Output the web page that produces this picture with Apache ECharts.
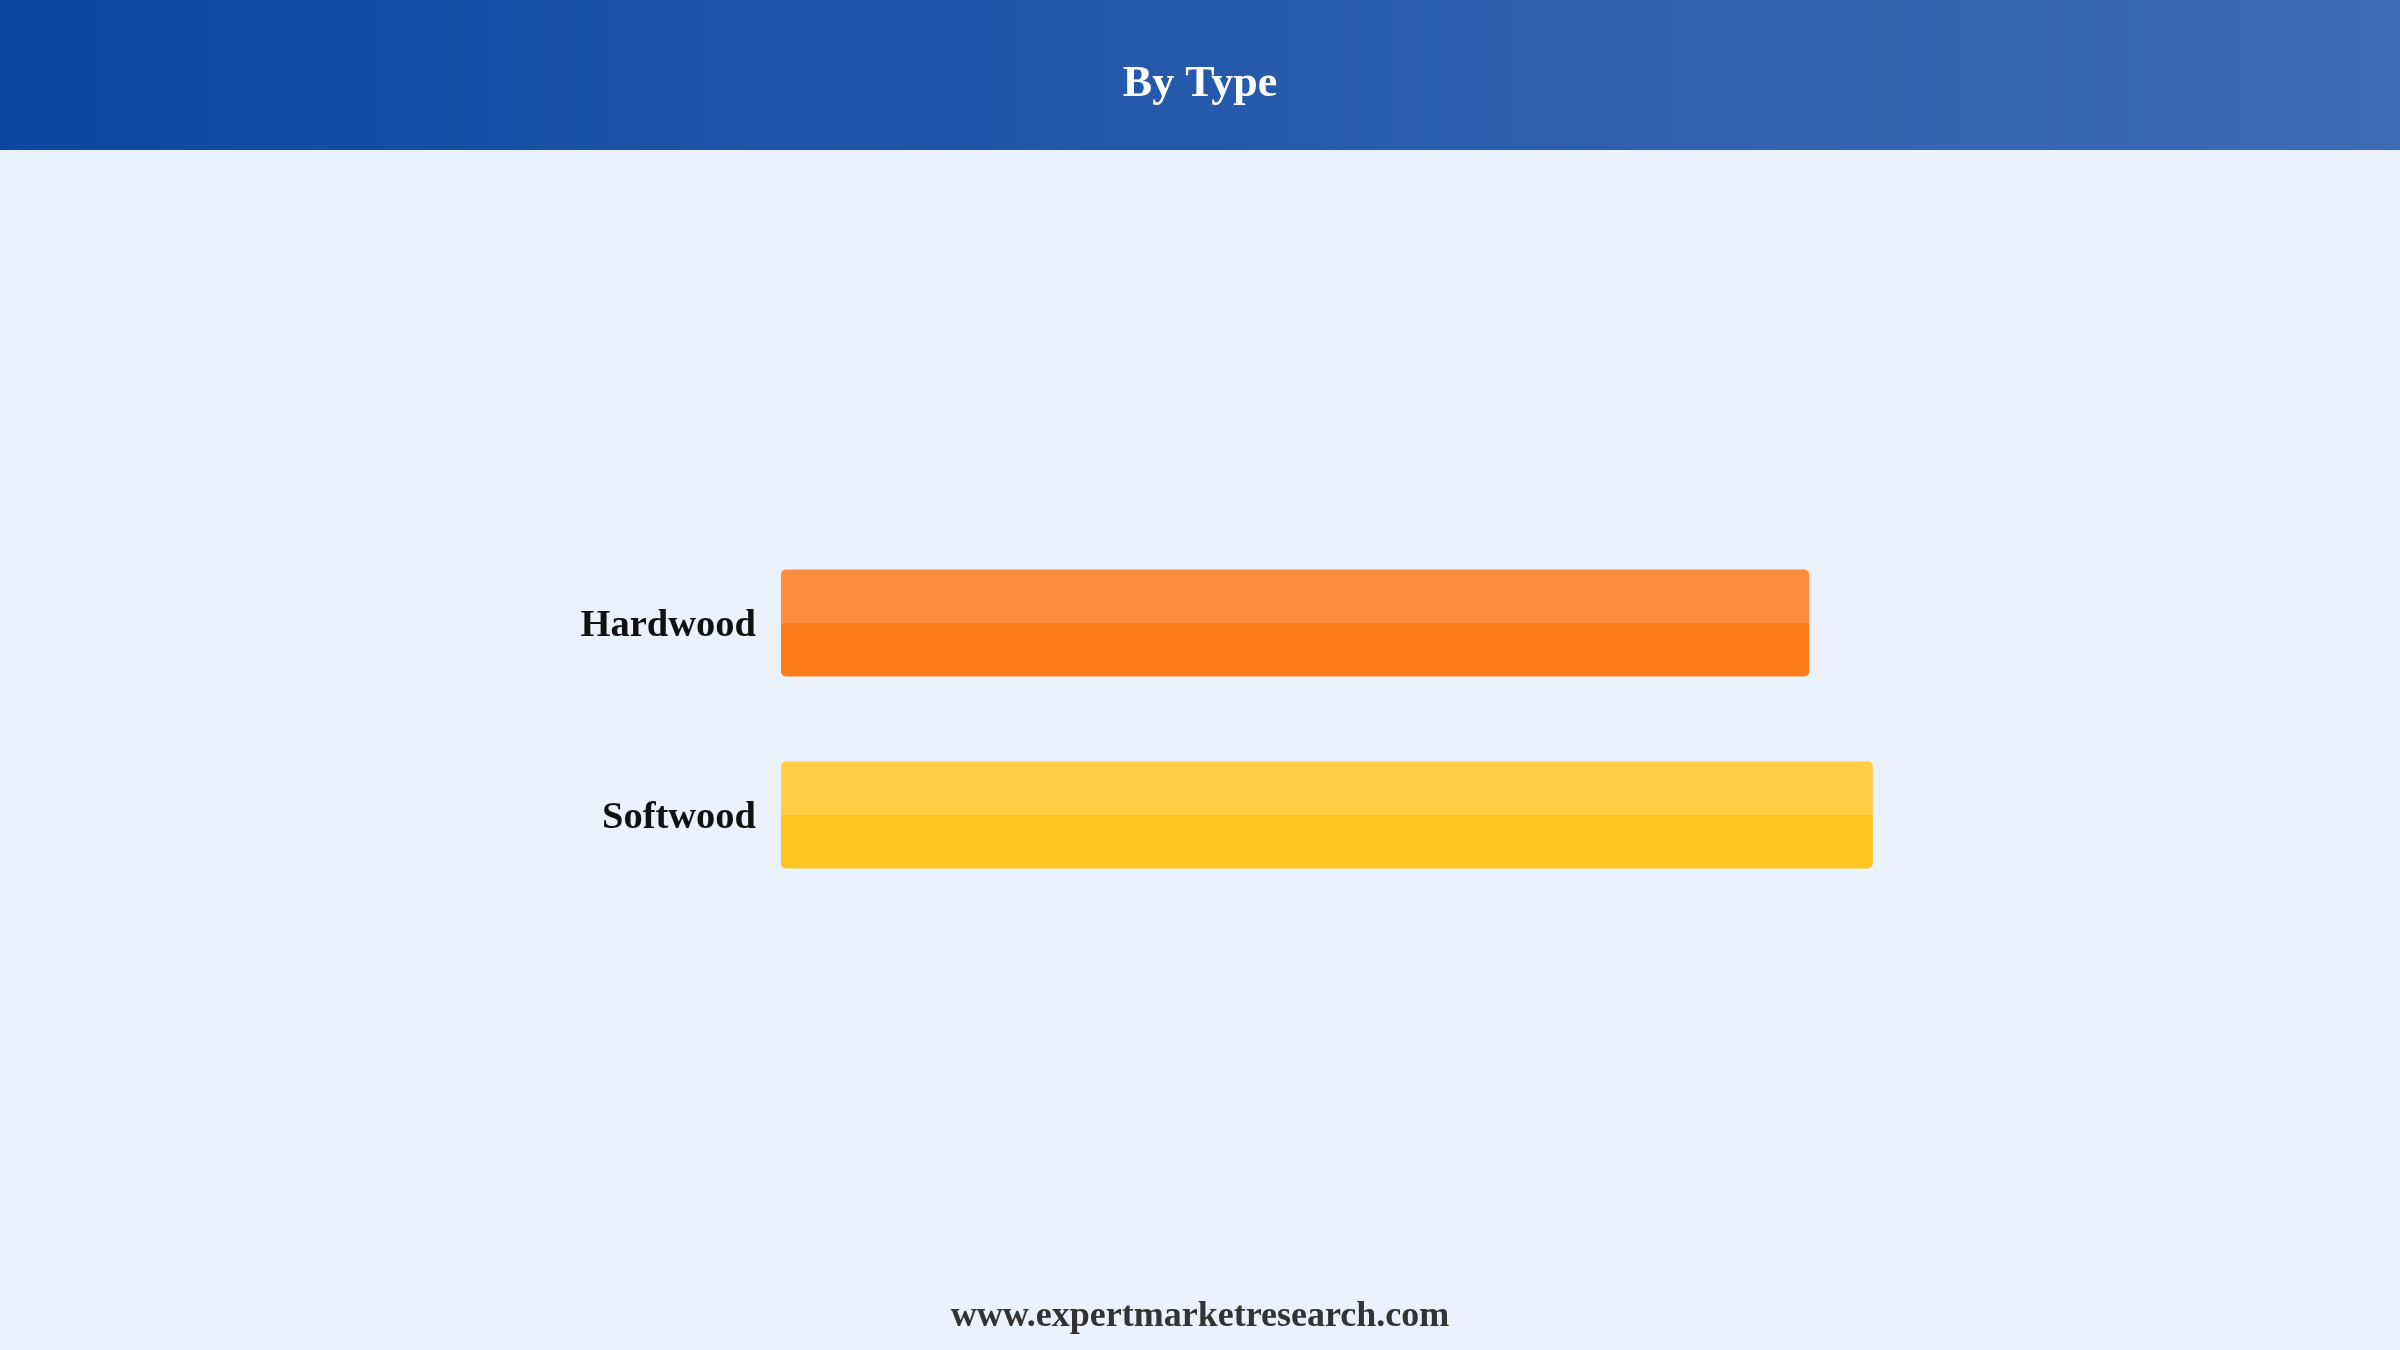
<!DOCTYPE html>
<html>
<head>
<meta charset="utf-8">
<script src="https://cdn.jsdelivr.net/npm/echarts@6/dist/echarts.min.js"></script>
<style>
html,body{margin:0;padding:0;background:#EBF2FC;}
#chart{width:2400px;height:1350px;}
</style>
</head>
<body>
<div id="chart"></div>
<script>
const categories = ['Softwood', 'Hardwood'];
const values = [51.5, 48.5];
const topColors = ['#FECD44', '#FF8D3F'];
const bottomColors = ['#FEC520', '#FF7C1B'];
const titleText = 'By Type';
const footerText = 'www.expertmarketresearch.com';

const chart = echarts.init(document.getElementById('chart'));
const serif = '"Liberation Serif", "Times New Roman", serif';
chart.setOption({
  backgroundColor: '#EBF2FC',
  graphic: [
    {
      type: 'rect', left: 0, top: 0, z: 0,
      shape: { width: 2400, height: 150 },
      style: {
        fill: new echarts.graphic.LinearGradient(0, 0, 1, 0, [
          { offset: 0, color: '#0D47A1' },
          { offset: 1, color: '#3D6CB5' }
        ])
      }
    },
    {
      type: 'text', left: 'center', top: 1299, z: 5,
      style: { text: footerText, font: 'bold 36px ' + serif, fill: '#333333' }
    }
  ],
  title: {
    text: titleText, left: 'center', top: 58,
    textStyle: { color: '#ffffff', fontFamily: serif, fontWeight: 'bold', fontSize: 44 }
  },
  grid: { left: 781, width: 1272, top: 527, height: 384, containLabel: false },
  xAxis: { type: 'value', min: 0, max: 60, show: false },
  yAxis: {
    type: 'category', data: categories,
    axisLine: { show: false }, axisTick: { show: false },
    axisLabel: {
      margin: 25,
      formatter: '{a|{value}}',
      rich: {
        a: { padding: [7, 0, 0, 0], color: '#111111', fontFamily: serif, fontWeight: 'bold', fontSize: 38.5 }
      }
    }
  },
  series: [{
    type: 'bar',
    barWidth: 107,
    data: values.map((v, i) => ({
      value: v,
      itemStyle: {
        borderRadius: 5,
        color: new echarts.graphic.LinearGradient(0, 0, 0, 1, [
          { offset: 0, color: topColors[i] },
          { offset: 0.5, color: topColors[i] },
          { offset: 0.5, color: bottomColors[i] },
          { offset: 1, color: bottomColors[i] }
        ])
      }
    })),
    animation: false
  }],
  animation: false
});
</script>
</body>
</html>
